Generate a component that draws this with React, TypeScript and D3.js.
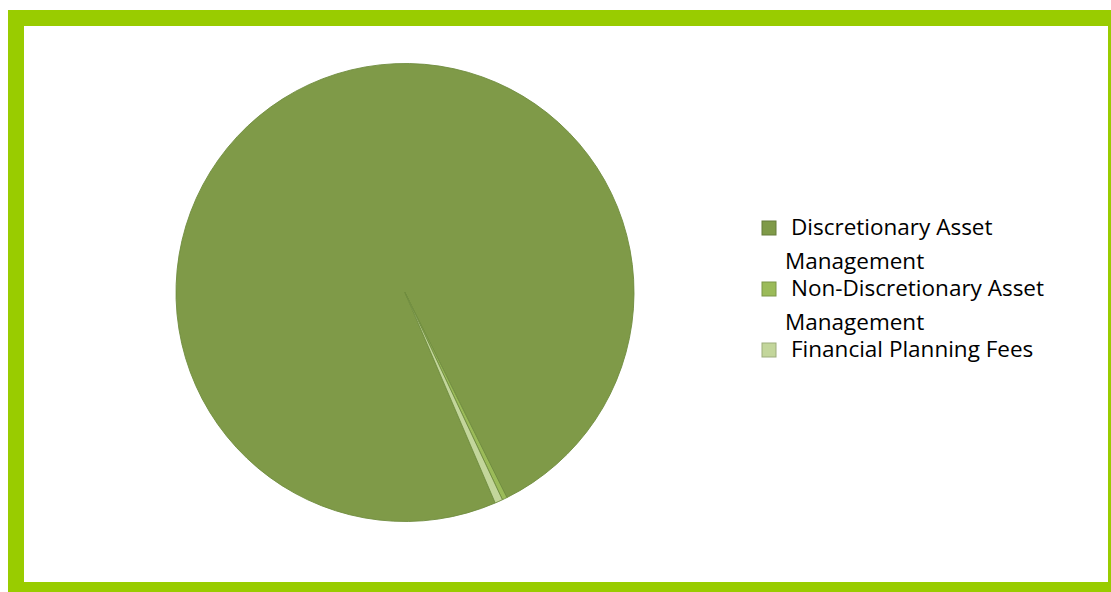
import React, { useEffect, useRef } from 'react';
import * as d3 from 'd3';

const categories = [
  'Discretionary Asset Management',
  'Non-Discretionary Asset Management',
  'Financial Planning Fees',
];
const values = [99.1, 0.35, 0.55];
const colors = ['#7f9a48', '#9bbb59', '#c3d69b'];
const legendLines = [
  ['Discretionary Asset', 'Management'],
  ['Non-Discretionary Asset', 'Management'],
  ['Financial Planning Fees'],
];

const W = 1111;
const H = 592;

const App: React.FC = () => {
  const svgRef = useRef<SVGSVGElement>(null);

  useEffect(() => {
    if (!svgRef.current) return;
    const svg = d3.select(svgRef.current);
    svg.selectAll('*').remove();

    // Frame
    svg
      .append('rect')
      .attr('x', 16)
      .attr('y', 18)
      .attr('width', 1100)
      .attr('height', 572)
      .attr('fill', '#ffffff')
      .attr('stroke', '#99cc00')
      .attr('stroke-width', 16);

    // Pie
    const cx = 405;
    const cy = 292.5;
    const radius = 229;
    const start = (156.8 * Math.PI) / 180;

    const pie = d3
      .pie<number>()
      .sort(null)
      .startAngle(start)
      .endAngle(start + 2 * Math.PI);
    const arc = d3.arc<d3.PieArcDatum<number>>().innerRadius(0).outerRadius(radius);

    const g = svg.append('g').attr('transform', `translate(${cx},${cy})`);
    g.selectAll('path')
      .data(pie(values))
      .enter()
      .append('path')
      .attr('d', arc)
      .attr('fill', (_, i) => colors[i])
      .attr('stroke', '#6f8c3e')
      .attr('stroke-width', 0.9)
      .attr('stroke-linejoin', 'round');

    // Legend
    const legend = svg.append('g').attr('font-family', '"Open Sans", sans-serif');
    const rowY = [235, 296, 357];
    categories.forEach((c, i) => {
      const item = legend.append('g').attr('class', 'legend-item').attr('data-name', c);
      item
        .append('rect')
        .attr('x', 762)
        .attr('y', rowY[i] - 14)
        .attr('width', 14)
        .attr('height', 14)
        .attr('fill', colors[i])
        .attr('stroke', d3.color(colors[i])!.darker(0.6).formatHex())
        .attr('stroke-width', 1);
      legendLines[i].forEach((line, j) => {
        item
          .append('text')
          .attr('x', j === 0 ? 791 : 785)
          .attr('y', rowY[i] + j * 34)
          .attr('fill', '#000000')
          .attr('font-size', '22.5px')
          .text(line);
      });
    });
  }, []);

  return (
    <svg
      ref={svgRef}
      width={W}
      height={H}
      style={{ position: 'absolute', left: 0, top: 0, display: 'block' }}
    />
  );
};

export default App;
